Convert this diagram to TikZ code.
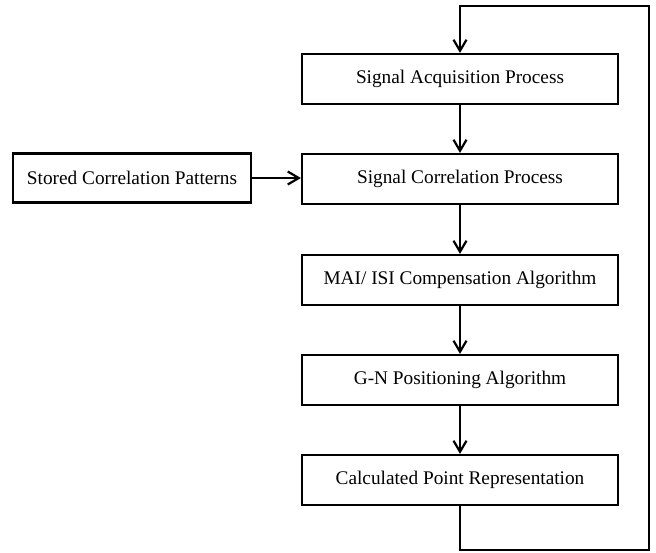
\documentclass[tikz,border=0pt]{standalone}
\usepackage{fontspec}
\setmainfont{Liberation Serif}
\usetikzlibrary{arrows.meta}
\begin{document}
\begin{tikzpicture}[x=1pt,y=-1pt,
  box/.style={draw, line width=2.2pt, minimum width=316pt, minimum height=50pt, inner sep=0pt, font=\fontsize{19.3}{22}\selectfont},
  lbox/.style={draw, line width=2.2pt, minimum width=238pt, minimum height=49pt, inner sep=0pt, font=\fontsize{19.3}{22}\selectfont},
  conn/.style={line width=2.2pt, -{Straight Barb[length=11pt,width=13pt,line width=2.2pt]}}]
\useasboundingbox (0,0) rectangle (656,552);
\node[box] (b1) at (460,79) {Signal Acquisition Process};
\node[box] (b2) at (460,179) {Signal Correlation Process};
\node[box] (b3) at (460,280) {MAI/ ISI Compensation Algorithm};
\node[box] (b4) at (460,380) {G-N Positioning Algorithm};
\node[box] (b5) at (460,480) {Calculated Point Representation};
\node[lbox] (s) at (132,178) {Stored Correlation Patterns};
\coordinate (c1) at (460,550);
\coordinate (c2) at (649,550);
\coordinate (c3) at (649,6);
\coordinate (c4) at (460,6);
\draw[conn] (b1) -- (b2);
\draw[conn] (b2) -- (b3);
\draw[conn] (b3) -- (b4);
\draw[conn] (b4) -- (b5);
\draw[conn] (s.east) -- (s.east -| b2.west);
\draw[conn, line join=miter] (b5.south) -- (c1) -- (c2) -- (c3) -- (c4) -- (b1.north);
\end{tikzpicture}
\end{document}
